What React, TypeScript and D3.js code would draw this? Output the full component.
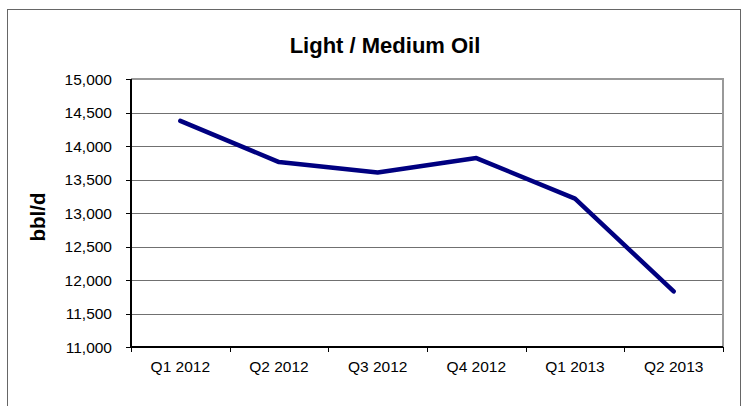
import React from "react";
import * as d3 from "d3";

const categories = ["Q1 2012", "Q2 2012", "Q3 2012", "Q4 2012", "Q1 2013", "Q2 2013"];
const values = [14375, 13760, 13605, 13820, 13215, 11830];
const yTicks = [11000, 11500, 12000, 12500, 13000, 13500, 14000, 14500, 15000];
const title = "Light / Medium Oil";
const yLabel = "bbl/d";

export default function App() {
  const W = 745, H = 406;
  const L = 131, R = 723, T = 79, B = 347;
  const x = d3.scaleBand<string>().domain(categories).range([L, R]);
  const y = d3.scaleLinear().domain([11000, 15000]).range([B, T]);
  const fmt = d3.format(",");
  const line = d3
    .line<number>()
    .x((_, i) => (x(categories[i]) as number) + x.bandwidth() / 2)
    .y((d) => y(d));
  const boundaries = categories.map((c) => x(c) as number).concat([R]);
  const font = "Arial, 'Liberation Sans', Helvetica, sans-serif";
  return (
    <svg
      width={W}
      height={H}
      style={{ position: "absolute", left: 0, top: 0, background: "#fff" }}
      fontFamily={font}
    >
      <rect x={7.5} y={9.5} width={733} height={420} fill="#fff" stroke="#666" strokeWidth={1} />
      <text x={385} y={53} textAnchor="middle" fontSize={22} fontWeight="bold" fill="#000">
        {title}
      </text>
      {yTicks.map((t) => (
        <g key={t}>
          {t !== 11000 && t !== 15000 && (
            <line x1={L} x2={R} y1={Math.round(y(t)) + 0.5} y2={Math.round(y(t)) + 0.5} stroke="#707070" strokeWidth={1} />
          )}
          <line x1={L - 5} x2={L} y1={Math.round(y(t)) + 0.5} y2={Math.round(y(t)) + 0.5} stroke="#000" strokeWidth={1} />
          <text x={112} y={y(t)} dy="0.36em" textAnchor="end" fontSize={15.5} fill="#000">
            {fmt(t)}
          </text>
        </g>
      ))}
      <line x1={L} x2={R + 1} y1={T} y2={T} stroke="#999" strokeWidth={2} />
      <line x1={R} x2={R} y1={T} y2={B} stroke="#999" strokeWidth={2} />
      <line x1={L} x2={L} y1={T} y2={B + 1} stroke="#000" strokeWidth={2} />
      <line x1={L} x2={R} y1={B} y2={B} stroke="#000" strokeWidth={2} />
      {boundaries.map((bx, i) => (
        <line key={i} x1={Math.round(bx) + 0.5} x2={Math.round(bx) + 0.5} y1={B} y2={B + 5} stroke="#000" strokeWidth={1} />
      ))}
      {categories.map((c) => (
        <text key={c} x={(x(c) as number) + x.bandwidth() / 2} y={372} textAnchor="middle" fontSize={15.5} fill="#000">
          {c}
        </text>
      ))}
      <path d={line(values) || ""} fill="none" stroke="#000080" strokeWidth={4.5} strokeLinejoin="round" strokeLinecap="round" />
      <text
        transform={`translate(45,217) rotate(-90)`}
        textAnchor="middle"
        fontSize={20.5}
        fontWeight="bold"
        fill="#000"
      >
        {yLabel}
      </text>
    </svg>
  );
}
